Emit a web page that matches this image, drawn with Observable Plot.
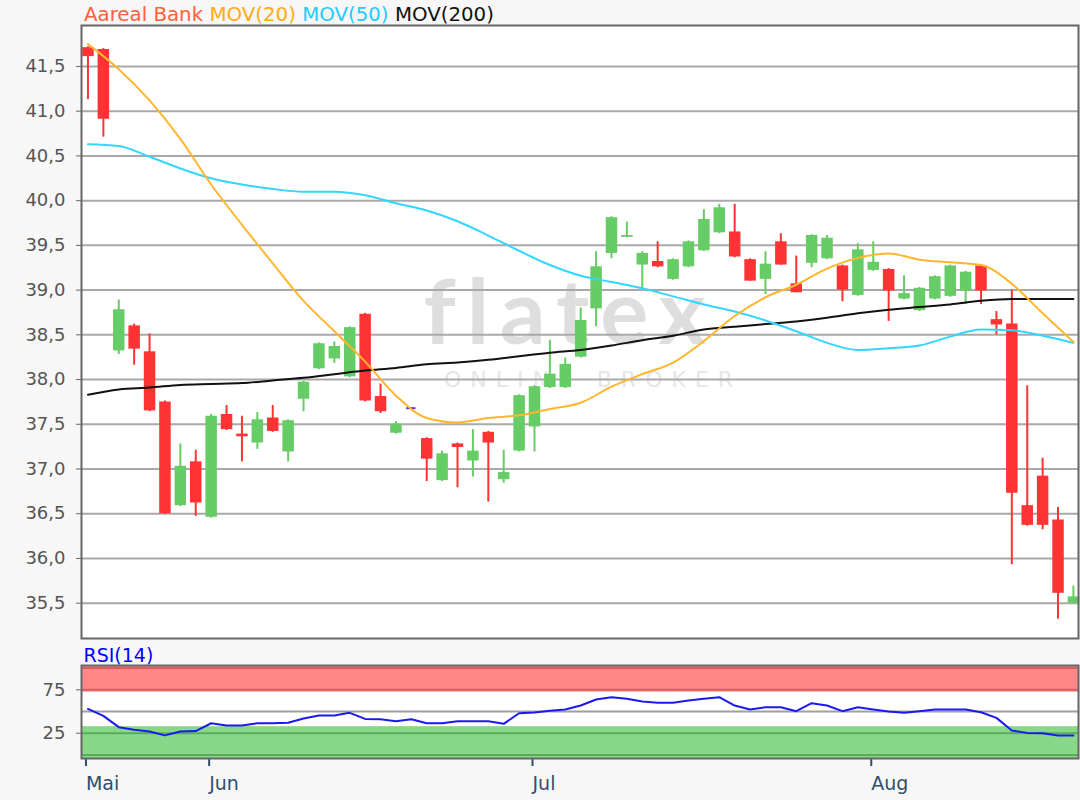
<!DOCTYPE html>
<html><head><meta charset="utf-8">
<script src="https://cdn.jsdelivr.net/npm/d3@7"></script>
<script src="https://cdn.jsdelivr.net/npm/@observablehq/plot@0.6"></script>
<style>
html,body{margin:0;padding:0;background:#f7f7f7;}
#wrap{position:relative;width:1080px;height:800px;background:#f7f7f7;font-family:"DejaVu Sans",sans-serif;overflow:hidden}
#legend{position:absolute;left:84px;top:2px;height:25px;font-size:19.8px;line-height:25px;white-space:pre}
#main{position:absolute;left:0;top:24px}
#rsi{position:absolute;left:0;top:639px}
</style></head><body>
<div id="wrap">
  <div id="legend"><span style="color:#ff6038">Aareal Bank</span> <span style="color:#ffaa11">MOV(20)</span> <span style="color:#22ccff">MOV(50)</span> <span style="color:#111">MOV(200)</span></div>
  <div id="main"></div>
  <div id="rsi"></div>
</div>
<script>
// ---- data ----
const open  = [41.71,41.69,38.32,38.60,38.31,37.75,36.59,37.08,36.46,37.61, 37.39,37.29,37.57,37.19,37.78,38.12,38.23,38.03,38.73,37.81, 37.40,37.68,37.34,36.87,37.28,37.09,37.41,36.88,37.20,37.47, 37.91,37.91,38.25,38.79,39.41,39.59,39.28,39.32,39.12,39.26, 39.44,39.64,39.65,39.34,39.12,39.54,39.07,39.30,39.35,39.27, 38.94,39.22,39.23,38.90,38.77,38.90,38.93,38.99,39.27,38.67, 38.62,36.59,36.92,36.43,35.50];
const high  = [41.72,41.70,38.89,38.62,38.51,37.76,37.28,37.21,37.61,37.71, 37.59,37.63,37.71,37.55,37.98,38.41,38.42,38.59,38.74,37.95, 37.53,37.68,37.35,37.20,37.29,37.44,37.42,37.21,37.83,37.93, 38.44,38.24,38.80,39.43,39.82,39.76,39.43,39.54,39.35,39.55, 39.90,39.96,39.96,39.35,39.43,39.63,39.38,39.62,39.61,39.28, 39.52,39.54,39.24,39.16,39.03,39.16,39.28,39.21,39.28,38.76, 39.00,37.93,37.12,36.57,35.69];
const low   = [41.13,40.71,38.28,38.16,37.64,36.49,36.58,36.47,36.45,37.43, 37.08,37.22,37.41,37.08,37.64,38.11,38.18,38.02,37.75,37.62, 37.39,37.68,36.86,36.86,36.79,36.91,36.63,36.84,37.19,37.19, 37.90,37.90,38.24,38.59,39.35,39.59,39.01,39.25,39.11,39.25, 39.43,39.63,39.36,39.10,38.95,39.28,38.97,39.25,39.34,38.87, 38.93,39.21,38.65,38.89,38.76,38.89,38.92,38.84,38.84,38.50, 35.93,36.36,36.32,35.32,35.49];
const close = [41.61,40.91,38.78,38.34,37.65,36.50,37.03,36.62,37.59,37.44, 37.36,37.55,37.42,37.54,37.97,38.40,38.37,38.58,37.76,37.64, 37.50,37.68,37.11,37.17,37.24,37.20,37.29,36.96,37.82,37.92, 38.06,38.17,38.66,39.26,39.81,39.61,39.41,39.26,39.34,39.54, 39.79,39.92,39.37,39.10,39.29,39.28,38.97,39.61,39.58,39.00, 39.45,39.31,38.99,38.96,39.02,39.15,39.27,39.20,38.99,38.61, 36.73,36.37,36.37,35.61,35.57];

const maIdx  = [0,2,4,6,8,10,12,14,16,18,20,22,24,26,28,30,32,34,36,38,40,42,44,46,48,50,52,54,56,58,60,62,64];
const ma20   = [41.75,41.47,41.12,40.69,40.18,39.73,39.30,38.88,38.54,38.20,37.82,37.57,37.52,37.57,37.60,37.67,37.74,37.92,38.06,38.19,38.43,38.71,38.92,39.06,39.24,39.36,39.41,39.34,39.31,39.28,39.07,38.74,38.42];
const ma50   = [40.63,40.61,40.49,40.36,40.25,40.18,40.13,40.10,40.10,40.06,39.97,39.89,39.77,39.61,39.44,39.28,39.16,39.09,39.02,38.93,38.84,38.76,38.66,38.54,38.41,38.33,38.35,38.38,38.48,38.56,38.55,38.49,38.41];
const ma200  = [37.83,37.89,37.91,37.94,37.95,37.96,37.99,38.02,38.06,38.10,38.13,38.17,38.19,38.22,38.26,38.30,38.33,38.38,38.44,38.49,38.56,38.59,38.62,38.65,38.69,38.74,38.78,38.81,38.84,38.88,38.90,38.90,38.90];

const rsi = [53,45,32,29,27,22.5,27,27.5,36.5,34, 34,36.5,36.5,37,42,45.5,45.5,48.5,41.5,41.2, 38.8,41.2,36.5,36.5,38.8,38.8,38.8,35.8,48,49, 51,52.3,56.9,63.8,66.5,64.6,61.5,60,60,62.7, 64.6,66.5,56.9,52.3,55,55,50.4,59.6,56.9,50.4, 55,52.3,50,48.5,50.4,52.3,52.3,52.3,49.2,42.7, 28.1,25.4,25,22.5,22.5];

const priceTicks  = [35.5,36,36.5,37,37.5,38,38.5,39,39.5,40,40.5,41,41.5];
const rsiTicks    = [25,75];
const monthIdx    = [0,8,29,51];
const monthLabels = ["Mai","Jun","Jul","Aug"];

// ---- build tables ----
const candles = open.map((o,i)=>({i, o, h: high[i], l: low[i], c: close[i],
  color: close[i] > o ? "#66cc66" : close[i] < o ? "#ff3333" : "#5533cc"}));
const bodies = candles.filter(d => d.o !== d.c);
const dojis  = candles.filter(d => d.o === d.c);
const maRows = (vals, name) => maIdx.map((i,k)=>({i, v: vals[k], name}));
const rsiRows = rsi.map((v,i)=>({i, v}));

const xDomain = [-0.42, 64.33];
const fmt = d => d.toFixed(1).replace(".", ",");
const FONT = "DejaVu Sans";

const main = Plot.plot({
  width: 1080, height: 615,
  marginLeft: 81, marginRight: 2, marginTop: 1, marginBottom: 1,
  x: {domain: xDomain, axis: null},
  y: {domain: [35.105, 41.958], axis: null},
  style: {background: "transparent", fontFamily: FONT, overflow: "visible"},
  marks: [
    Plot.frame({fill: "white"}),
    Plot.text(["flatex"], {frameAnchor: "middle", dx: -10, dy: -17, fontSize: 90, fontFamily: "Lato", fontWeight: 700, fill: "#dedede"}),
    Plot.text(["ONLINE BROKER"], {frameAnchor: "middle", dx: 13, dy: 48, fontSize: 22, fontFamily: FONT, fill: "#e6e6e6"}),
    Plot.ruleY(priceTicks, {stroke: "#a9a9a9", strokeWidth: 2}),
    Plot.axisY({ticks: priceTicks, tickFormat: fmt, tickSize: 5, tickPadding: 11, fontSize: 18, fill: "#555", stroke: "#666", label: null}),
    Plot.ruleX(candles, {x: "i", y1: "l", y2: "h", stroke: "color", strokeWidth: 2}),
    Plot.ruleX(bodies, {x: "i", y1: "o", y2: "c", stroke: "color", strokeWidth: 11.5}),
    Plot.ruleY(dojis, {x1: d => d.i - 0.3, x2: d => d.i + 0.3, y: "c", stroke: "color", strokeWidth: 2}),
    Plot.line(maRows(ma200, "200"), {x: "i", y: "v", stroke: "#111", strokeWidth: 2, curve: "monotone-x"}),
    Plot.line(maRows(ma50, "50"), {x: "i", y: "v", stroke: "#33d6ff", strokeWidth: 2, curve: "monotone-x"}),
    Plot.line(maRows(ma20, "20"), {x: "i", y: "v", stroke: "#ffb62e", strokeWidth: 2, curve: "monotone-x"}),
    Plot.frame({stroke: "#666", strokeWidth: 2})
  ]
});
d3.select(main).selectAll("text").filter(function(){return this.textContent === "flatex";}).attr("letter-spacing", 11);
d3.select(main).selectAll("text").filter(function(){return this.textContent === "ONLINE BROKER";}).attr("letter-spacing", 9);
document.getElementById("main").appendChild(main);

const rsiPlot = Plot.plot({
  width: 1080, height: 161,
  marginLeft: 81, marginRight: 2, marginTop: 26, marginBottom: 42,
  x: {domain: xDomain, axis: null},
  y: {domain: [-4.1, 103], axis: null},
  style: {background: "transparent", fontFamily: FONT, overflow: "visible"},
  marks: [
    Plot.frame({fill: "white"}),
    Plot.rect([0], {y1: 72.3, y2: 103, fill: "#ff8787"}),
    Plot.rect([0], {y1: -4.1, y2: 32.6, fill: "#89d889"}),
    Plot.ruleY([100, 75], {stroke: "#d95f5f", strokeWidth: 2}),
    Plot.ruleY([25, 0], {stroke: "#5aab5a", strokeWidth: 2}),
    Plot.ruleY([50], {stroke: "#a0a0a0", strokeWidth: 2}),
    Plot.axisY({ticks: rsiTicks, tickSize: 5, tickPadding: 11, fontSize: 18, fill: "#555", stroke: "#666", label: null}),
    Plot.axisX({ticks: monthIdx, tickFormat: d => monthLabels[monthIdx.indexOf(d)], tickSize: 8, tickPadding: 10, textAnchor: "start", dx: -2, fontSize: 19, fill: "#2f4e6e", stroke: "#2f4e6e", strokeWidth: 2, label: null}),
    Plot.line(rsiRows, {x: "i", y: "v", stroke: "#1a1aee", strokeWidth: 2}),
    Plot.text(["RSI(14)"], {frameAnchor: "top-left", dx: 2, dy: -4, lineAnchor: "bottom", textAnchor: "start", fontSize: 19, fill: "#0000ff"}),
    Plot.frame({stroke: "#666", strokeWidth: 2})
  ]
});
document.getElementById("rsi").appendChild(rsiPlot);
</script>
</body></html>
